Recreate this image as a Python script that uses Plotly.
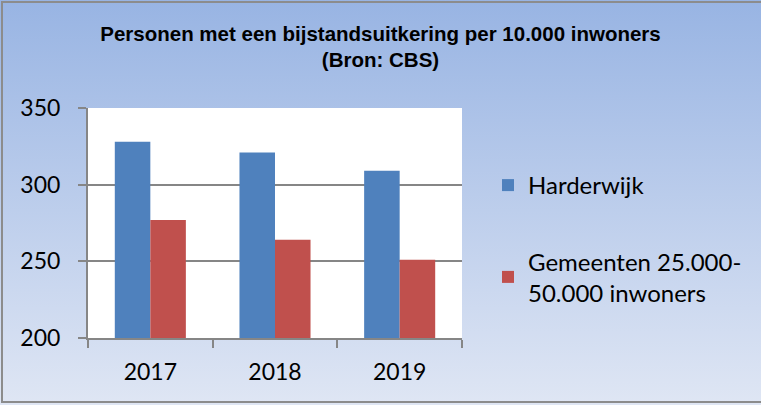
import plotly.graph_objects as go

years = ["2017", "2018", "2019"]
harderwijk = [328, 321, 309]
gemeenten = [277, 264, 251]
series_names = ["Harderwijk", "Gemeenten 25.000-<br>50.000 inwoners"]
y_ticks = [200, 250, 300, 350]

W, H = 761, 405
L, R, T, B = 88, 299, 108, 67
PW, PH = W - L - R, H - T - B

svg = (
    "<svg xmlns='http://www.w3.org/2000/svg' width='761' height='405'>"
    "<defs><linearGradient id='g' x1='0' y1='0' x2='0' y2='1'>"
    "<stop offset='0' stop-color='%2398B4E3'/>"
    "<stop offset='1' stop-color='%23DFE6F4'/>"
    "</linearGradient></defs>"
    "<rect width='761' height='405' fill='url(%23g)'/></svg>"
)
src = "data:image/svg+xml;utf8," + svg

fig = go.Figure()
fig.add_trace(go.Bar(x=years, y=harderwijk, name=series_names[0],
                     marker=dict(color="#4F81BD", line=dict(width=0)),
                     legendgroup="a"))
fig.add_trace(go.Bar(x=years, y=gemeenten, name=series_names[1],
                     marker=dict(color="#C0504D", line=dict(width=0)),
                     legendgroup="b"))

fig.update_layout(
    width=W, height=H, autosize=False,
    margin=dict(l=L, r=R, t=T, b=B, pad=0, autoexpand=False),
    paper_bgcolor="white",
    plot_bgcolor="rgba(0,0,0,0)",
    barmode="group", bargap=0.43, bargroupgap=0,
    font=dict(family="Lato", size=23, color="black"),
    title=dict(
        text="<b>Personen met een bijstandsuitkering per 10.000 inwoners<br>(Bron: CBS)</b>",
        x=0.5, xanchor="center", y=1 - 40.5 / H, yanchor="top",
        font=dict(family="Liberation Sans", size=20.5, color="black"),
    ),
    showlegend=True,
    legend=dict(
        x=(488 - L) / PW, xanchor="left",
        y=1 - (163 - T) / PH, yanchor="top",
        bgcolor="rgba(0,0,0,0)", borderwidth=0,
        font=dict(family="Lato", size=24, color="black"),
        traceorder="grouped", tracegroupgap=42,
        itemwidth=30,
    ),
    xaxis=dict(
        type="category", showgrid=False,
        showline=True, linecolor="#868686", linewidth=2,
        ticks="outside", tickson="boundaries", ticklen=8, tickwidth=2,
        tickcolor="#868686", ticklabelstandoff=12,
    ),
    yaxis=dict(
        range=[200, 350], tickvals=y_ticks,
        showgrid=True, gridcolor="#868686", gridwidth=2,
        showline=True, linecolor="#868686", linewidth=2,
        ticks="outside", ticklen=8, tickwidth=2, tickcolor="#868686",
        ticklabelstandoff=13, zeroline=False,
    ),
    images=[dict(source=src, xref="paper", yref="paper",
                 x=-L / PW, y=1 + T / PH,
                 sizex=W / PW, sizey=H / PH,
                 xanchor="left", yanchor="top", sizing="stretch",
                 layer="below")],
    shapes=[
        dict(type="rect", xref="x domain", yref="y domain", x0=0, x1=1, y0=0, y1=1,
             fillcolor="white", line=dict(width=0), layer="below"),
        dict(type="rect", xref="paper", yref="paper",
             x0=(2 - L) / PW, x1=(W + 5 - L) / PW,
             y0=-(B - 3) / PH, y1=1 + (T - 2) / PH,
             fillcolor="rgba(0,0,0,0)", line=dict(color="#8C8C8C", width=2),
             layer="above"),
    ],
)

fig.write_html("out.html",
               config={"responsive": False, "displayModeBar": False},
               post_script="document.body.style.margin='0';document.body.style.overflow='hidden';")
